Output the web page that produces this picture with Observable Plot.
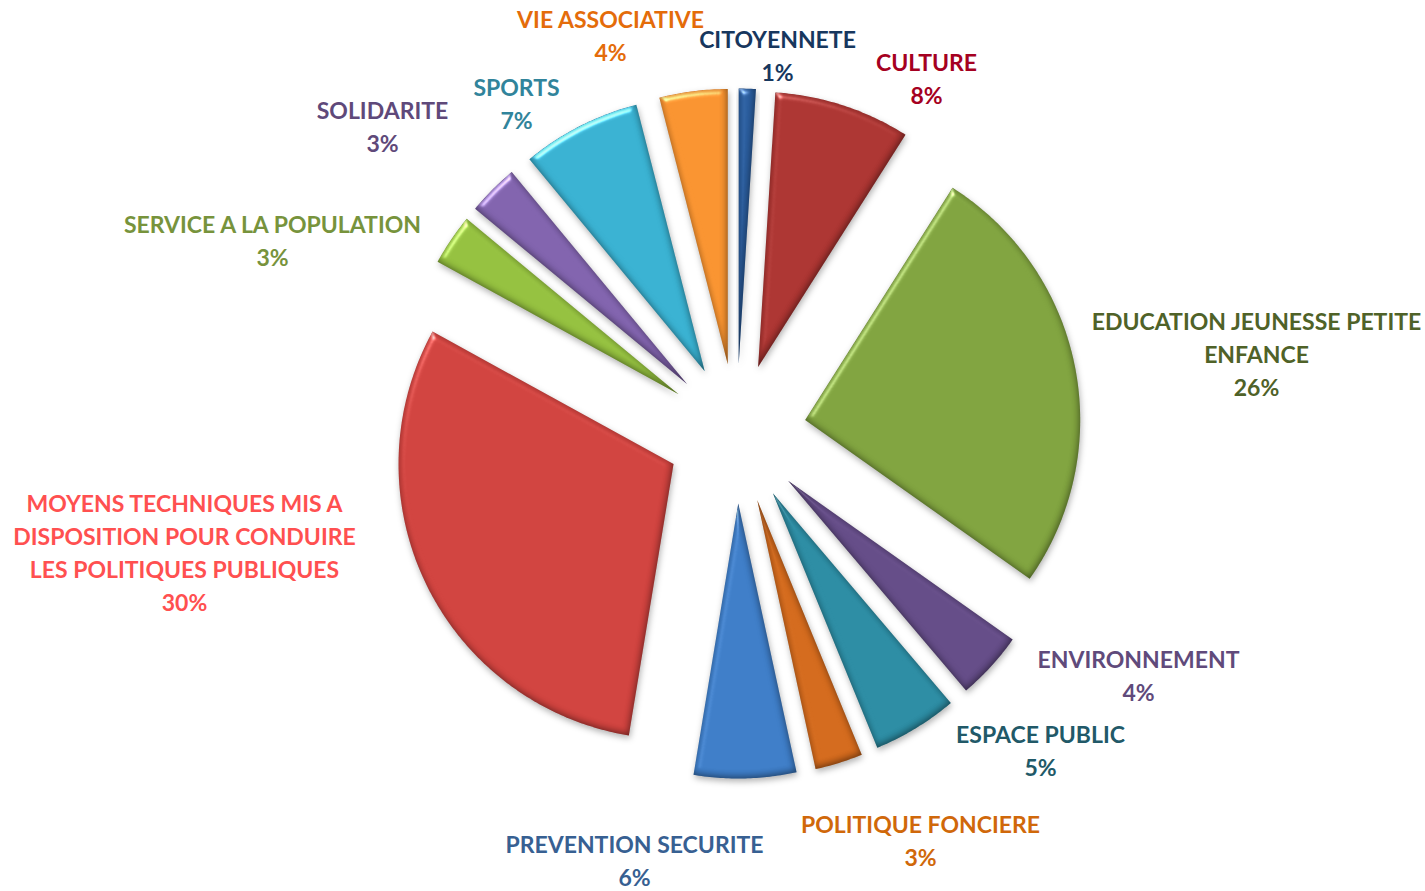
<!DOCTYPE html>
<html>
<head>
<meta charset="utf-8">
<script src="https://cdn.jsdelivr.net/npm/d3@7"></script>
<script src="https://cdn.jsdelivr.net/npm/@observablehq/plot@0.6"></script>
<style>
html, body { margin: 0; padding: 0; background: #ffffff; }
#chart svg { display: block; }
</style>
</head>
<body>
<div id="chart"></div>
<script>
// ---------- DATA ----------
const categories = [
  "CITOYENNETE",
  "CULTURE",
  "EDUCATION JEUNESSE PETITE ENFANCE",
  "ENVIRONNEMENT",
  "ESPACE PUBLIC",
  "POLITIQUE FONCIERE",
  "PREVENTION SECURITE",
  "MOYENS TECHNIQUES MIS A DISPOSITION POUR CONDUIRE LES POLITIQUES PUBLIQUES",
  "SERVICE A LA POPULATION",
  "SOLIDARITE",
  "SPORTS",
  "VIE ASSOCIATIVE"
];
// shares in % (labels show them rounded)
const shares = [1, 8, 25.8, 4, 5, 2.8, 6, 30.4, 3, 3, 7, 4];
const labelLines = [
  ["CITOYENNETE"],
  ["CULTURE"],
  ["EDUCATION JEUNESSE PETITE", "ENFANCE"],
  ["ENVIRONNEMENT"],
  ["ESPACE PUBLIC"],
  ["POLITIQUE FONCIERE"],
  ["PREVENTION SECURITE"],
  ["MOYENS TECHNIQUES MIS A", "DISPOSITION POUR CONDUIRE", "LES POLITIQUES PUBLIQUES"],
  ["SERVICE A LA POPULATION"],
  ["SOLIDARITE"],
  ["SPORTS"],
  ["VIE ASSOCIATIVE"]
];

// ---------- STYLE / LAYOUT ----------
const sliceColors = [
  "#2a5d9e", "#ab3431", "#7fa23e", "#634b86", "#2b8ba2", "#d2691c",
  "#3d7cc6", "#cf423e", "#93bf3e", "#8062ac", "#38b0d0", "#f7922f"
];
const labelColors = [
  "#17375e", "#a50021", "#4f6228", "#604a7b", "#215968", "#d0680a",
  "#376092", "#ff5050", "#77933c", "#5f497a", "#31849b", "#e46c0a"
];
// label block centres, pixels relative to the pie centre (x right, y down)
const labelOffsets = [
  [41, -380], [190, -357], [520, -81], [402, 240], [304, 315], [184, 405],
  [-102, 425], [-552, 117], [-464, -195], [-354, -309], [-220, -332], [-126, -400]
];
const W = 1425, H = 891;
const CX = 736, CY = 433;      // pie centre in pixels
const R = 275, EXPLODE = 70;   // radius and explosion distance
const FONT = 23, LINE = 33;

// ---------- GEOMETRY ----------
const arcs = d3.pie().sort(null).startAngle(0).endAngle(2 * Math.PI)(shares);
const slicePts = [];
arcs.forEach((a, i) => {
  const m = (a.startAngle + a.endAngle) / 2;
  const ox = EXPLODE * Math.sin(m), oy = EXPLODE * Math.cos(m);
  slicePts.push({name: categories[i], x: ox, y: oy});
  const n = Math.max(4, Math.ceil((a.endAngle - a.startAngle) / 0.01));
  for (let k = 0; k <= n; k++) {
    const t = a.startAngle + (a.endAngle - a.startAngle) * k / n;
    slicePts.push({name: categories[i], x: ox + R * Math.sin(t), y: oy + R * Math.cos(t)});
  }
  slicePts.push({name: categories[i], x: ox, y: oy});
});

const labels = categories.map((c, i) => ({
  name: c,
  text: [...labelLines[i], Math.round(shares[i]) + "%"].join("\n"),
  x: labelOffsets[i][0],
  y: -labelOffsets[i][1],
  color: labelColors[i]
}));

const chart = Plot.plot({
  width: W,
  height: H,
  margin: 0,
  x: {axis: null, domain: [-CX, W - CX]},
  y: {axis: null, domain: [-(H - CY), CY]},
  color: {domain: categories, range: sliceColors},
  style: {background: "#ffffff", overflow: "visible"},
  marks: [
    Plot.line(slicePts, {x: "x", y: "y", z: "name", fill: "name", stroke: "none"}),
    ...labels.map(l => Plot.text([l], {
      x: "x", y: "y", text: "text", fill: l.color,
      fontFamily: "Lato", fontWeight: "bold", fontSize: FONT,
      lineHeight: LINE / FONT, lineAnchor: "middle", textAnchor: "middle"
    }))
  ]
});

document.getElementById("chart").appendChild(chart);

// bevel / shadow effect
const svg = d3.select(chart);
const defs = svg.insert("defs", ":first-child");
defs.html(`
<filter id="bevel" x="-20%" y="-20%" width="140%" height="140%" color-interpolation-filters="sRGB">
  <feGaussianBlur in="SourceAlpha" stdDeviation="3" result="blur"/>
  <feSpecularLighting in="blur" surfaceScale="4" specularConstant="1" specularExponent="28" lighting-color="#ffffff" result="spec">
    <feDistantLight azimuth="240" elevation="30"/>
  </feSpecularLighting>
  <feComposite in="spec" in2="SourceAlpha" operator="in" result="specIn"/>
  <feComposite in="SourceGraphic" in2="specIn" operator="arithmetic" k1="0" k2="1" k3="0.55" k4="0" result="lit"/>
  <feOffset in="blur" dx="-1.5" dy="-2" result="offBlur"/>
  <feComposite in="SourceAlpha" in2="offBlur" operator="out" result="rim"/>
  <feFlood flood-color="#000000" flood-opacity="0.45" result="dark"/>
  <feComposite in="dark" in2="rim" operator="in" result="rimDark"/>
  <feComposite in="rimDark" in2="lit" operator="over" result="body"/>
  <feGaussianBlur in="SourceAlpha" stdDeviation="3" result="sb"/>
  <feOffset in="sb" dx="1" dy="3" result="sbo"/>
  <feFlood flood-color="#000000" flood-opacity="0.3" result="sf"/>
  <feComposite in="sf" in2="sbo" operator="in" result="shadow"/>
  <feMerge><feMergeNode in="shadow"/><feMergeNode in="body"/></feMerge>
</filter>`);
svg.selectAll('g[aria-label="line"] path').attr("filter", "url(#bevel)");
</script>
</body>
</html>
